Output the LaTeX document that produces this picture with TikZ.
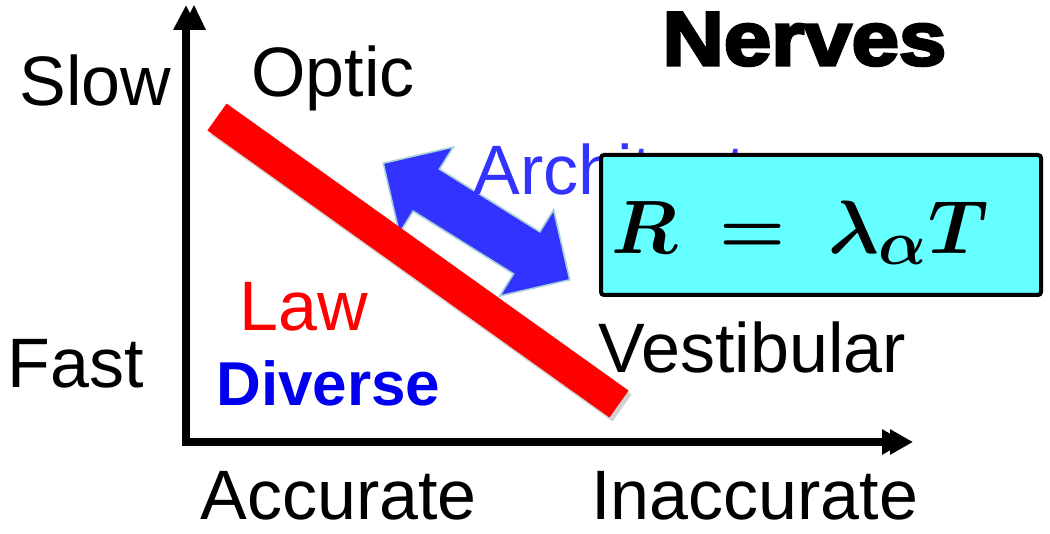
\documentclass[tikz,border=0pt]{standalone}
\usepackage{fontspec}
\setmainfont{Liberation Sans}
\newfontfamily\heavyfont[FakeBold=4, FakeStretch=1.12]{Liberation Sans Bold}
\usepackage{amsmath,bm}
\usetikzlibrary{positioning, arrows.meta, shapes.arrows}
\definecolor{lawRed}{HTML}{ff0000}
\definecolor{archBlue}{HTML}{3333ff}
\definecolor{archEdge}{HTML}{a8d0d8}
\definecolor{divBlue}{HTML}{0000ee}
\definecolor{boxCyan}{HTML}{66ffff}
\newcommand{\lawfont}{\fontsize{35}{42}\selectfont}

\begin{document}
\begin{tikzpicture}[x=0.5pt, y=-0.5pt,
  axis/.style={line width=4pt, -{Triangle[length=12.5pt,width=12pt]}},
  lbl/.style={font=\lawfont, inner sep=0pt, anchor=base west},
  lawbar/.style={line width=16.5pt, color=lawRed}]
\useasboundingbox (0,0) rectangle (1050,534);
% axes
\coordinate (o) at (186,442);
\coordinate (ytop) at (186,5);
\coordinate (xend) at (913,442);
\draw[axis] (186,446) -- (ytop);
\fill (182,30) -- (194,5) -- (206,30) -- cycle;
\draw[line width=4pt, -{Triangle[length=11.5pt,width=12pt,sep=-7.5pt]Triangle[length=11.5pt,width=12pt]}] (o) -- (xend);
% architecture arrow and text
\node[shape=double arrow, double arrow head extend=13pt, minimum height=110pt, inner xsep=0pt, inner ysep=12pt,
  fill=archBlue, draw=archEdge, line width=0.8pt, rotate=-32] (arch) at (476.5,221.5) {};
\node[lbl, text=archBlue] (archtxt) at (473,195) {Architecture};
% the law
\coordinate (lawA) at (217,117);
\coordinate (lawB) at (619,404);
\draw[lawbar, black, opacity=0.18] ([shift={(3,4)}]lawA) -- ([shift={(3,4)}]lawB);
\draw[lawbar] (lawA) -- (lawB);
% formula box
\node[draw, fill=boxCyan, line width=2pt, rounded corners=1.5pt, minimum width=220pt, minimum height=70pt, inner sep=0pt] (box) at (821,225) {};
\node[inner sep=0pt, font=\Huge, scale=1.52] (eq) at (800,233) {$\bm{R \;=\; \lambda_{\alpha} T}$};
% labels
\node[lbl] (slow) at (19,106) {Slow};
\node[lbl] (fast) at (7,387) {Fast};
\node[lbl] (optic) at (251,97) {Optic};
\node[lbl] (vest) at (598,372) {Vestibular};
\node[lbl] (acc) at (200,519) {Accurate};
\node[lbl] (inacc) at (591,519) {Inaccurate};
\node[lbl, text=lawRed] (law) at (239,330) {Law};
\node[lbl, font=\fontsize{31}{36}\selectfont\bfseries, text=divBlue] (div) at (216,405) {Diverse};
\node[lbl, font=\fontsize{38}{44}\selectfont\heavyfont] (nerves) at (662,65) {Nerves};
\end{tikzpicture}
\end{document}
